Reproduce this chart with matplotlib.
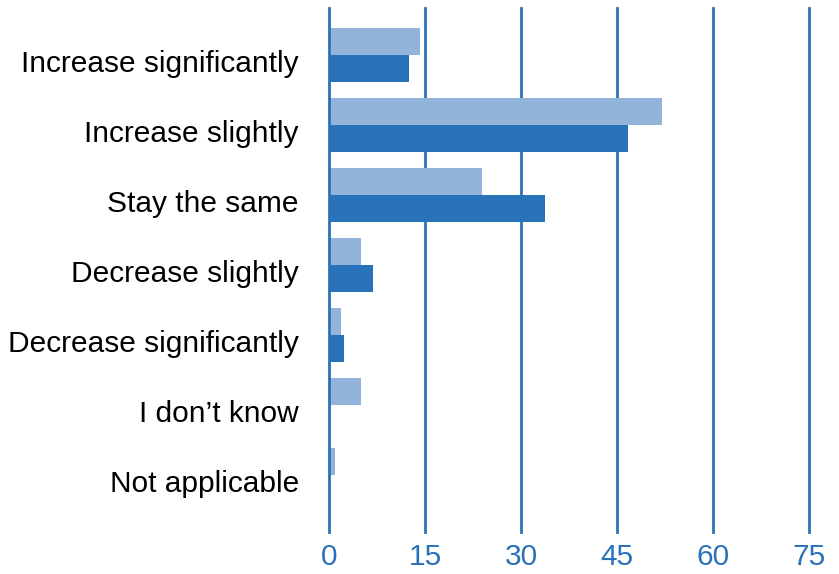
import numpy as np
import matplotlib.pyplot as plt
import matplotlib.transforms as mtransforms

plt.rcParams['font.family'] = ['Liberation Sans', 'DejaVu Sans']

# Survey answers, top to bottom
categories = [
    "Increase significantly",
    "Increase slightly",
    "Stay the same",
    "Decrease slightly",
    "Decrease significantly",
    "I don\u2019t know",
    "Not applicable",
]
series_light = [14.1, 52.0, 23.8, 4.9, 1.8, 4.9, 0.9]
series_dark = [12.4, 46.6, 33.7, 6.8, 2.3, 0.0, 0.0]
x_ticks = [0, 15, 30, 45, 60, 75]

LIGHT = "#93b4da"
DARK = "#2872ba"
GRID = "#2a72b8"

fig = plt.figure(figsize=(8.39, 5.74), dpi=100)
ax = fig.add_axes([0.3925, 0.0737, 0.5721, 0.9124])

y = np.arange(len(categories))
h = 0.39
ax.barh(y - h / 2, series_light, height=h, color=LIGHT, zorder=3)
ax.barh(y + h / 2, series_dark, height=h, color=DARK, zorder=3)

ax.set_xlim(0, 75)
ax.set_ylim(6.81, -0.67)
ax.set_xticks(x_ticks)
ax.set_yticks(y)
ax.set_yticklabels(categories)

for t in x_ticks:
    ax.axvline(t, color=GRID, lw=2.0, zorder=2 if t else 4, clip_on=False)

for s in ax.spines.values():
    s.set_visible(False)

ax.tick_params(axis="y", length=0, pad=22, labelsize=21.5, labelcolor="black")
ax.tick_params(axis="x", length=0, pad=8, labelsize=21.5, labelcolor=GRID)

# nudge category labels a little below the bar-pair centre
shift = mtransforms.ScaledTranslation(0, -6 / 100, fig.dpi_scale_trans)
for lbl in ax.get_yticklabels():
    lbl.set_transform(lbl.get_transform() + shift)

fig.savefig("out.png", dpi=100)
